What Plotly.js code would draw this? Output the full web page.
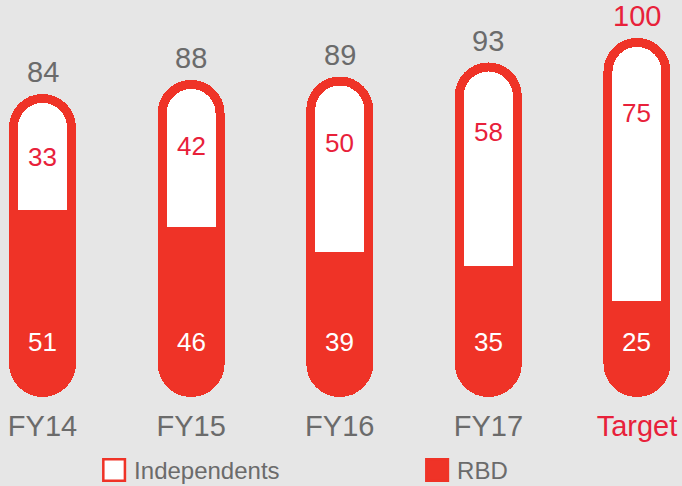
<!DOCTYPE html>
<html>
<head>
<meta charset="utf-8">
<script src="https://cdn.plot.ly/plotly-3.0.1.min.js"></script>
<style>
  html, body { margin: 0; padding: 0; background: #e6e6e6; }
  #chart { width: 682px; height: 486px; }
</style>
</head>
<body>
<div id="chart"></div>
<script>
// les données du graphique
let categories = ['FY14', 'FY15', 'FY16', 'FY17', 'Target'];
let rbd = [51, 46, 39, 35, 25];
let independents = [33, 42, 50, 58, 75];
let totals = [84, 88, 89, 93, 100];

let rouge = '#ef3327';
let rougeTexte = '#e8213a';
let gris = '#6b6b6b';
let police = 'Liberation Sans, Arial, sans-serif';

// etiquettes de l'axe x (Target en rouge)
let etiquettes = categories.map(c => c == 'Target' ? `<span style="color:${rougeTexte}">${c}</span>` : c);

// la pilule rouge complète (base donnée => arrondie en haut et en bas, dessinée en mode overlay)
let tracePilule = {
    type: 'bar',
    name: 'RBD',
    x: categories,
    y: totals,
    base: totals.map(() => 0),
    width: 0.39,
    marker: { color: rouge, line: { color: rouge, width: 9 }, cornerradius: '50%' },
    legendrank: 2,
    hoverinfo: 'skip'
};

// RBD empilé (invisible, sert de socle aux Independents)
let traceRbd = {
    type: 'bar',
    name: 'RBD',
    x: categories,
    y: rbd,
    width: 0.39,
    marker: { color: 'rgba(0,0,0,0)', line: { width: 0 } },
    showlegend: false,
    hoverinfo: 'skip'
};

// partie blanche empilée au dessus (seul le haut est arrondi)
let traceInd = {
    type: 'bar',
    name: 'Independents',
    x: categories,
    y: independents,
    width: 0.39,
    marker: { color: '#ffffff', line: { color: rouge, width: 9 }, cornerradius: '50%' },
    legendrank: 1,
    hoverinfo: 'skip'
};

let annotations = [];
for (let i = 0; i < categories.length; i++) {
    // total au dessus
    annotations.push({
        x: categories[i], y: totals[i], xref: 'x', yref: 'y',
        text: String(totals[i]), showarrow: false,
        yanchor: 'bottom', yshift: 8,
        font: { family: police, size: 29, color: categories[i] == 'Target' ? rougeTexte : gris }
    });
    // independents
    annotations.push({
        x: categories[i], y: totals[i] * 0.8, xref: 'x', yref: 'y',
        text: String(independents[i]), showarrow: false,
        yanchor: 'middle',
        font: { family: police, size: 26, color: rougeTexte }
    });
    // rbd
    annotations.push({
        x: categories[i], y: 14.4, xref: 'x', yref: 'y',
        text: String(rbd[i]), showarrow: false,
        yanchor: 'middle',
        font: { family: police, size: 26, color: '#ffffff' }
    });
}

let layout = {
    width: 682,
    height: 486,
    margin: { l: 0, r: 0, t: 0, b: 86, autoexpand: false },
    paper_bgcolor: '#e6e6e6',
    plot_bgcolor: '#e6e6e6',
    barmode: 'stack',
    font: { family: police, color: gris },
    showlegend: true,
    legend: {
        orientation: 'h',
        x: 0.138, xanchor: 'left',
        y: -0.176, yanchor: 'middle',
        font: { family: police, size: 24, color: gris },
        entrywidth: 278,
        traceorder: 'normal',
        bgcolor: 'rgba(0,0,0,0)'
    },
    xaxis: {
        type: 'category',
        range: [-0.286, 4.303],
        tickvals: categories,
        ticktext: etiquettes,
        tickfont: { family: police, size: 29, color: gris },
        ticklabelstandoff: 6,
        automargin: false,
        showgrid: false, zeroline: false, showline: false, ticks: '',
        fixedrange: true
    },
    yaxis: {
        range: [-2.14, 112.14],
        visible: false,
        showgrid: false, zeroline: false,
        fixedrange: true
    },
    annotations: annotations
};

Plotly.newPlot('chart', [tracePilule, traceRbd, traceInd], layout, { displayModeBar: false, staticPlot: true }).then(() => {
    // carrés de légende plus grands, sans arrondi
    document.querySelectorAll('.legendpoints path').forEach(p => {
        let t = p.getAttribute('transform') || '';
        p.setAttribute('d', 'M6,6H-6V-6H6Z');
        p.setAttribute('transform', t + ' scale(1.8)');
        p.style.strokeWidth = '1.4px';
    });
});
</script>
</body>
</html>
